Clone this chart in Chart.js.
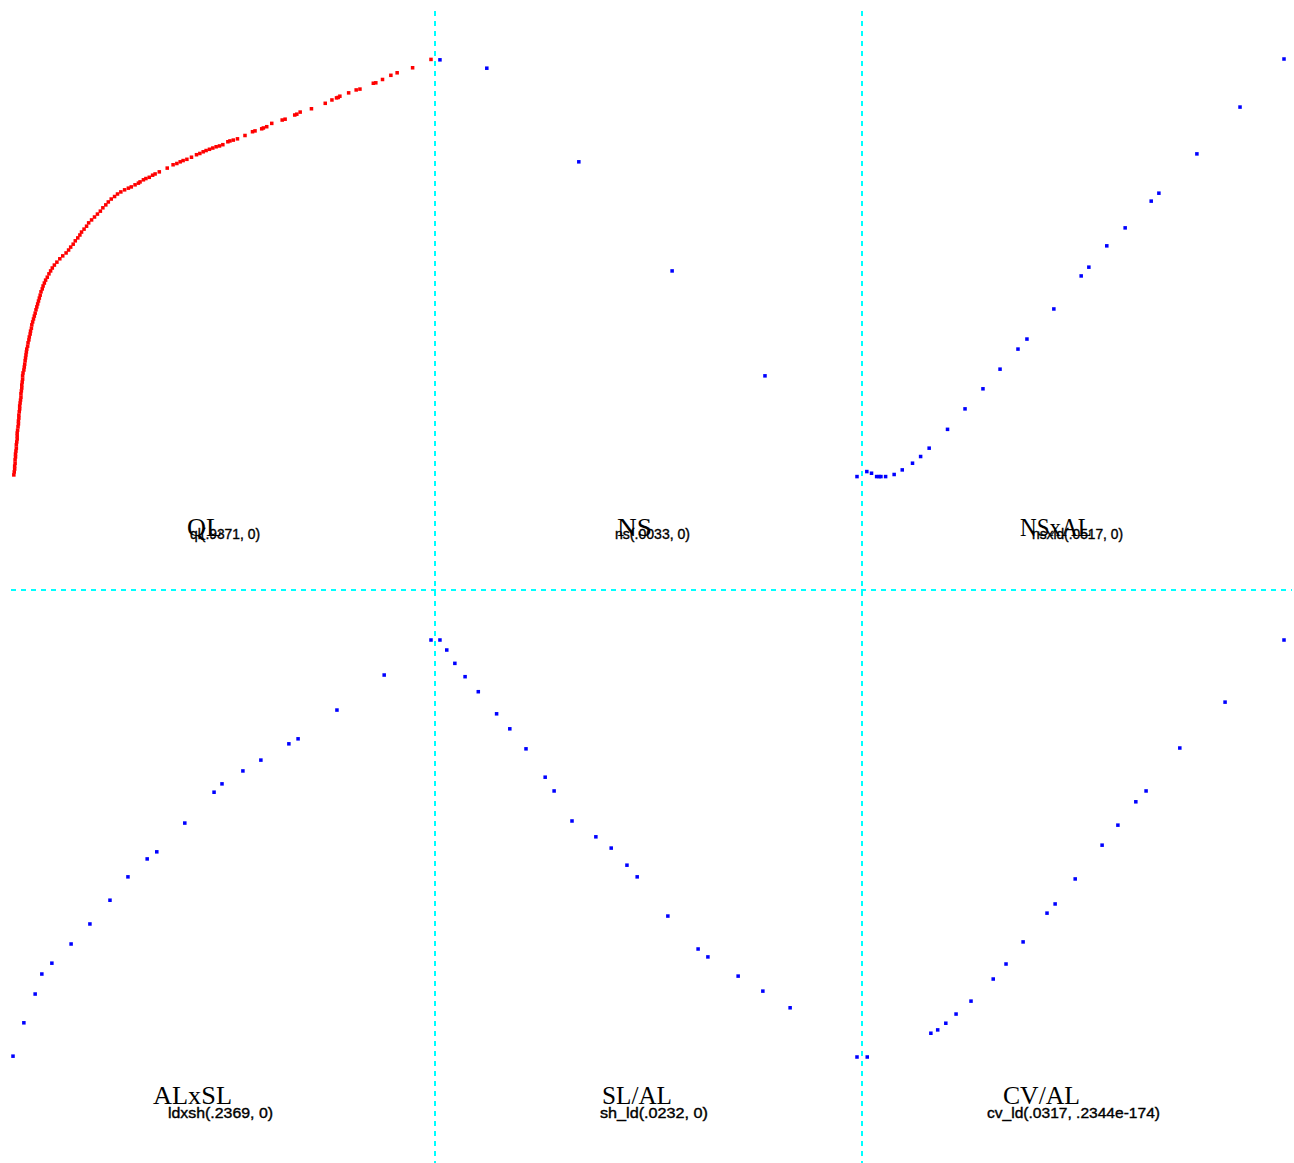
<!DOCTYPE html>
<html>
<head>
<meta charset="utf-8">
<script src="https://cdn.jsdelivr.net/npm/chart.js@4.4.1/dist/chart.umd.min.js"></script>
<style>
  html, body { margin: 0; padding: 0; background: #fff; }
  #page { position: relative; width: 1294px; height: 1163px; overflow: hidden; background: #fff; }
  #page canvas { position: absolute; }
  #page svg { position: absolute; left: 0; top: 0; }
</style>
</head>
<body>
<div id="page"></div>
<script>
// ---- values (each panel uses its own 0..1 scale on both axes) ----

const panelTitles = ['QL', 'NS', 'NSxAL', 'ALxSL', 'SL/AL', 'CV/AL'];
const panelStats = ['ql(.9371, 0)', 'ns(.0033, 0)', 'nsxld(.0517, 0)',
                    'ldxsh(.2369, 0)', 'sh_ld(.0232, 0)', 'cv_ld(.0317, .2344e-174)'];

const qlPoints = [
  [0.002,0.005],[0.003,0.012],[0.004,0.019],[0.004,0.026],[0.005,0.033],[0.005,0.041],[0.006,0.048],
  [0.006,0.055],[0.007,0.062],[0.008,0.069],[0.008,0.077],[0.009,0.084],[0.010,0.091],[0.010,0.098],
  [0.010,0.105],[0.011,0.112],[0.012,0.120],[0.013,0.127],[0.013,0.134],[0.014,0.141],[0.014,0.148],
  [0.015,0.156],[0.016,0.163],[0.016,0.170],[0.017,0.177],[0.018,0.184],[0.019,0.191],[0.019,0.199],
  [0.020,0.206],[0.021,0.213],[0.021,0.220],[0.022,0.227],[0.023,0.234],[0.023,0.242],[0.024,0.249],
  [0.026,0.256],[0.027,0.263],[0.028,0.270],[0.029,0.278],[0.030,0.285],[0.031,0.292],[0.032,0.299],
  [0.033,0.306],[0.035,0.313],[0.036,0.321],[0.038,0.328],[0.039,0.335],[0.041,0.342],[0.042,0.349],
  [0.044,0.356],[0.045,0.364],[0.047,0.371],[0.049,0.378],[0.051,0.385],[0.053,0.392],[0.055,0.400],
  [0.057,0.407],[0.059,0.414],[0.061,0.421],[0.063,0.428],[0.065,0.435],[0.067,0.443],[0.070,0.450],
  [0.072,0.457],[0.075,0.464],[0.078,0.471],[0.082,0.478],[0.086,0.486],[0.090,0.493],[0.094,0.500],
  [0.099,0.507],[0.105,0.514],[0.112,0.522],[0.119,0.529],[0.127,0.536],[0.133,0.543],[0.138,0.550],
  [0.144,0.557],[0.149,0.565],[0.155,0.572],[0.160,0.579],[0.164,0.586],[0.170,0.593],[0.176,0.600],
  [0.181,0.608],[0.188,0.615],[0.195,0.622],[0.202,0.629],[0.209,0.636],[0.215,0.644],[0.222,0.651],
  [0.228,0.658],[0.235,0.665],[0.243,0.671],[0.250,0.677],[0.258,0.682],[0.267,0.687],[0.276,0.691],
  [0.283,0.694],[0.292,0.699],[0.300,0.703],
  [0.304,0.706],[0.312,0.711],[0.318,0.714],[0.326,0.717],[0.334,0.722],[0.340,0.725],[0.350,0.730],
  [0.369,0.739],[0.383,0.747],[0.392,0.750],[0.400,0.754],[0.407,0.757],[0.416,0.760],[0.427,0.765],
  [0.439,0.771],[0.447,0.774],[0.455,0.778],[0.462,0.781],[0.470,0.784],[0.478,0.787],[0.486,0.790],
  [0.494,0.792],[0.502,0.795],[0.514,0.802],[0.519,0.804],[0.527,0.806],[0.537,0.809],[0.555,0.817],
  [0.573,0.826],[0.579,0.828],[0.595,0.833],[0.599,0.835],[0.607,0.838],[0.619,0.846],[0.644,0.854],
  [0.651,0.856],[0.674,0.866],[0.679,0.868],[0.687,0.873],[0.714,0.881],[0.747,0.894],[0.763,0.902],
  [0.774,0.907],[0.778,0.908],[0.782,0.911],[0.803,0.919],[0.821,0.926],[0.830,0.928],[0.862,0.942],
  [0.868,0.943],[0.884,0.951],[0.904,0.961],[0.919,0.967],[0.956,0.979],[1.000,0.999]
];

const nsPoints = [
  [0.021,0.998],[0.131,0.978],[0.347,0.754],[0.566,0.493],[0.784,0.242]
];

const nsxalPoints = [
  [0.000,0.001],[0.023,0.013],[0.034,0.009],[0.046,0.001],[0.052,0.001],[0.056,0.001],[0.067,0.001],
  [0.087,0.006],[0.106,0.017],[0.130,0.033],[0.149,0.049],[0.169,0.069],[0.212,0.114],[0.253,0.163],
  [0.295,0.211],[0.335,0.258],[0.377,0.306],[0.398,0.330],[0.461,0.402],[0.525,0.481],[0.543,0.502],
  [0.585,0.553],[0.628,0.596],[0.689,0.660],[0.707,0.679],[0.796,0.773],[0.897,0.885],[1.000,1.000]
];

const alxslPoints = [
  [0.000,0.002],[0.026,0.082],[0.053,0.151],[0.069,0.199],[0.093,0.225],[0.139,0.271],[0.184,0.319],
  [0.232,0.376],[0.275,0.432],[0.321,0.475],[0.344,0.492],[0.411,0.561],[0.481,0.635],[0.500,0.655],
  [0.550,0.686],[0.593,0.712],[0.660,0.751],[0.682,0.763],[0.775,0.832],[0.888,0.916]
];

const slalPoints = [
  [0.000,1.000],[0.021,1.000],[0.037,0.976],[0.056,0.944],[0.080,0.912],[0.111,0.876],[0.154,0.823],
  [0.185,0.787],[0.223,0.739],[0.268,0.671],[0.289,0.638],[0.331,0.566],[0.387,0.528],[0.423,0.501],
  [0.460,0.460],[0.484,0.432],[0.556,0.338],[0.627,0.259],[0.650,0.240],[0.721,0.194],[0.779,0.158],
  [0.843,0.118]
];

const cvalPoints = [
  [0.000,0.000],[0.024,0.000],[0.173,0.057],[0.189,0.065],[0.208,0.081],[0.232,0.103],[0.267,0.134],
  [0.319,0.187],[0.349,0.223],[0.389,0.276],[0.445,0.345],[0.464,0.367],[0.511,0.427],[0.574,0.508],
  [0.611,0.556],[0.653,0.612],[0.677,0.638],[0.756,0.741],[0.862,0.851],[1.000,1.000]
];

// ---- layout ----
const PAD = 5;
const W = 1294, H = 1163;
const frames = [
  { left: 13,  top: 59,  width: 418, height: 418 },
  { left: 431, top: 59,  width: 426, height: 418 },
  { left: 857, top: 59,  width: 427, height: 418 },
  { left: 13,  top: 640, width: 418, height: 417 },
  { left: 431, top: 640, width: 426, height: 417 },
  { left: 857, top: 640, width: 427, height: 417 }
];
const pointSets = [qlPoints, nsPoints, nsxalPoints, alxslPoints, slalPoints, cvalPoints];
const pointColors = ['#ff0000', '#0000ff', '#0000ff', '#0000ff', '#0000ff', '#0000ff'];

// title (serif) and statistic (sans) placements: [x, baseline, textLength]
const titlePos = [[187, 536, 35], [617, 536, 35], [1020, 536, 72],
                  [153, 1104, 79], [602, 1104, 70], [1003, 1104, 77]];
const statPos = [[190, 539, 70], [615, 539, 75], [1032, 539, 91],
                 [168, 1118, 105], [600, 1118, 108], [987, 1118, 173]];

const page = document.getElementById('page');
const SVGNS = 'http://www.w3.org/2000/svg';

// separators and labels
const svg = document.createElementNS(SVGNS, 'svg');
svg.setAttribute('width', W);
svg.setAttribute('height', H);
function line(x1, y1, x2, y2) {
  const l = document.createElementNS(SVGNS, 'line');
  l.setAttribute('x1', x1); l.setAttribute('y1', y1);
  l.setAttribute('x2', x2); l.setAttribute('y2', y2);
  l.setAttribute('stroke', '#00ffff');
  l.setAttribute('stroke-width', 2);
  l.setAttribute('stroke-dasharray', '5 5');
  svg.appendChild(l);
}
line(435, 11, 435, H);
line(862, 11, 862, H);
line(11, 590, 1292, 590);

function text(str, pos, family, size, weight) {
  const t = document.createElementNS(SVGNS, 'text');
  t.setAttribute('x', pos[0]);
  t.setAttribute('y', pos[1]);
  t.setAttribute('font-family', family);
  t.setAttribute('font-size', size);
  t.setAttribute('textLength', pos[2]);
  t.setAttribute('lengthAdjust', 'spacingAndGlyphs');
  t.setAttribute('fill', '#000');
  if (weight) {
    t.setAttribute('stroke', '#000');
    t.setAttribute('stroke-width', weight);
  }
  t.textContent = str;
  svg.appendChild(t);
}
panelTitles.forEach((s, i) => text(s, titlePos[i], "'Liberation Serif', 'Times New Roman', serif", 26));
panelStats.forEach((s, i) => text(s, statPos[i], "'Liberation Sans', Arial, sans-serif", 15.5, 0.4));
page.appendChild(svg);

// one scatter chart per panel
pointSets.forEach((pts, i) => {
  const f = frames[i];
  const cv = document.createElement('canvas');
  cv.width = f.width + 2 * PAD;
  cv.height = f.height + 2 * PAD;
  cv.style.left = (f.left - PAD) + 'px';
  cv.style.top = (f.top - PAD) + 'px';
  cv.style.width = cv.width + 'px';
  cv.style.height = cv.height + 'px';
  page.appendChild(cv);
  new Chart(cv, {
    type: 'scatter',
    data: {
      datasets: [{
        label: panelTitles[i],
        data: pts.map(([x, y]) => ({ x, y })),
        pointStyle: 'rect',
        pointRadius: 2.5,
        pointHoverRadius: 2.5,
        borderWidth: 0,
        backgroundColor: pointColors[i],
        borderColor: pointColors[i],
        clip: false
      }]
    },
    options: {
      responsive: false,
      animation: false,
      devicePixelRatio: 1,
      events: [],
      layout: { padding: PAD },
      plugins: { legend: { display: false }, tooltip: { enabled: false } },
      scales: {
        x: { type: 'linear', min: 0, max: 1, display: false },
        y: { type: 'linear', min: 0, max: 1, display: false }
      }
    }
  });
});
</script>
</body>
</html>
